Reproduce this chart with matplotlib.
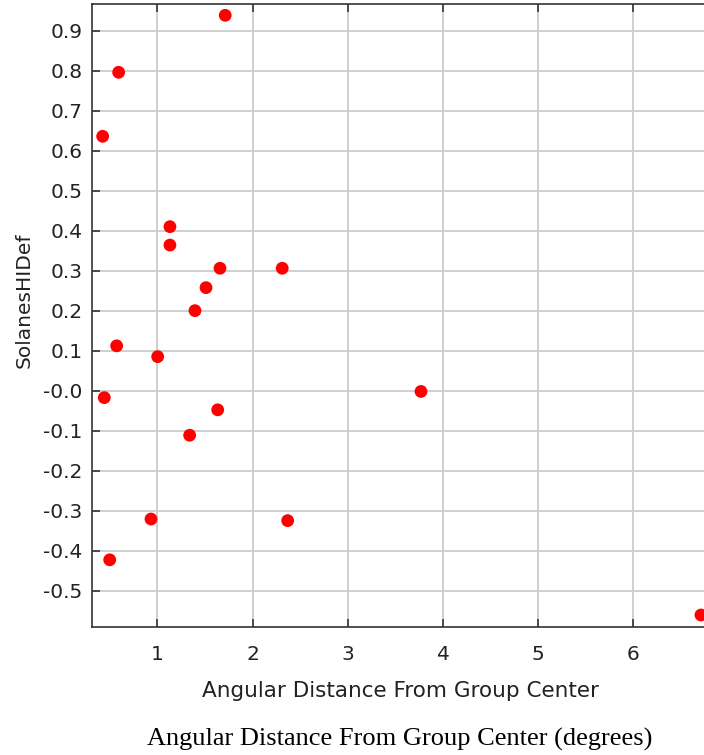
import matplotlib
matplotlib.use("Agg")
import matplotlib.pyplot as plt

# Data
ang_dist = [1.712, 0.592, 0.424, 1.131, 1.131, 1.657, 2.311, 1.510, 1.394,
            1.002, 3.769, 1.633, 1.338, 0.571, 0.441, 0.932, 0.498, 2.368, 6.711]
solanes_hidef = [0.9385, 0.796, 0.636, 0.410, 0.364, 0.306, 0.306, 0.2575, 0.200,
                 0.085, -0.002, -0.048, -0.1115, 0.112, -0.0175, -0.321, -0.423, -0.325, -0.561]

x_ticks = [1, 2, 3, 4, 5, 6]
y_ticks = [0.9, 0.8, 0.7, 0.6, 0.5, 0.4, 0.3, 0.2, 0.1, 0.0, -0.1, -0.2, -0.3, -0.4, -0.5]
y_ticklabels = ["0.9", "0.8", "0.7", "0.6", "0.5", "0.4", "0.3", "0.2", "0.1",
                "-0.0", "-0.1", "-0.2", "-0.3", "-0.4", "-0.5"]

W, H = 704, 755
fig = plt.figure(figsize=(W / 100, H / 100), dpi=100)
ax = fig.add_axes([92 / W, 1 - 627 / H, 1 - 92 / W, (627 - 4.3) / H])

ax.scatter(ang_dist, solanes_hidef, s=9.2 ** 2, color="#ff0000", edgecolors="none", zorder=3)

ax.set_xlim(0.312, 6.743)
ax.set_ylim(-0.591, 0.966)
ax.set_xticks(x_ticks)
ax.set_xticklabels([str(t) for t in x_ticks])
ax.set_yticks(y_ticks)
ax.set_yticklabels(y_ticklabels)

ax.grid(True, color="#cccccc", linewidth=1.3, zorder=0)
ax.set_axisbelow(True)

for side in ["left", "bottom", "top"]:
    ax.spines[side].set_color("#333333")
    ax.spines[side].set_linewidth(1.2)
ax.spines["right"].set_visible(False)

ax.tick_params(axis="x", direction="in", length=6, width=1.2, color="#333333",
               top=True, labelsize=14.5, pad=13, labelcolor="#222222")
ax.tick_params(axis="y", direction="in", length=6, width=1.2, color="#333333",
               right=False, labelsize=14.5, pad=7, labelcolor="#222222")

fig.text(401 / W, 1 - 697 / H, "Angular Distance From Group Center", ha="center",
         va="baseline", fontsize=15.5, color="#222222", family="DejaVu Sans")
fig.text(24.5 / W, 1 - 300 / H, "SolanesHIDef", rotation=90, ha="center", va="center",
         fontsize=14.5, color="#222222", family="DejaVu Sans")
fig.text(399.5 / W, 1 - 745.7 / H, "Angular Distance From Group Center (degrees)",
         ha="center", va="baseline", fontsize=19, color="black", family="Liberation Serif")

fig.savefig("out.png", dpi=100)
